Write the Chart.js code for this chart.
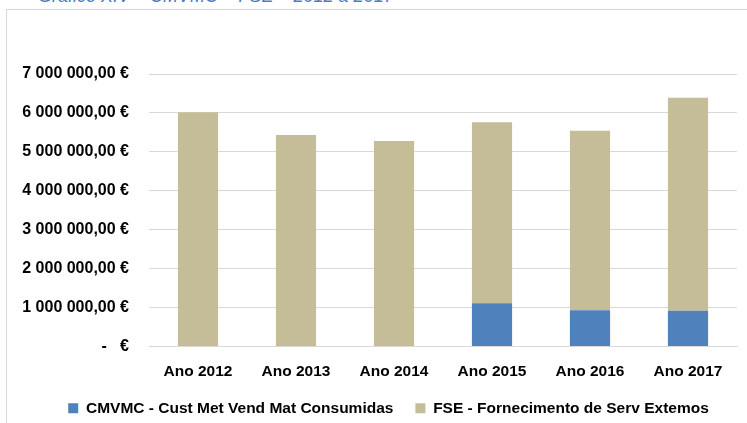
<!DOCTYPE html>
<html>
<head>
    <title>CMVMC + FSE 2012 a 2017</title>
    <script src="https://cdn.jsdelivr.net/npm/chart.js"></script>
    <style>
        body {
            margin: 0;
            background-color: white;
            font-family: "Liberation Sans", Arial, sans-serif;
            overflow: hidden;
        }

        #title {
            position: absolute;
            left: 38px;
            top: -14px;
            font-size: 18px;
            font-style: italic;
            color: #4f7ac0;
            white-space: nowrap;
        }

        #frame {
            position: absolute;
            left: 6px;
            top: 9px;
            width: 800px;
            height: 500px;
            border-left: 1px solid #d9d9d9;
            border-top: 1px solid #d9d9d9;
        }

        #chartBox {
            position: absolute;
            left: 0;
            top: 0;
            width: 747px;
            height: 423px;
        }
    </style>
</head>
<body>
    <div id="title">Gráfico XIV – CMVMC + FSE – 2012 a 2017</div>
    <div id="frame"></div>
    <div id="chartBox">
        <canvas id="costChart" width="747" height="423"></canvas>
    </div>

    <script>
        const categories = ['Ano 2012', 'Ano 2013', 'Ano 2014', 'Ano 2015', 'Ano 2016', 'Ano 2017'];

        const cmvmc = [0, 0, 0, 1110000, 930000, 920000];
        const fse = [6020000, 5430000, 5280000, 4650000, 4610000, 5470000];

        const seriesNames = ['CMVMC - Cust Met Vend Mat Consumidas', 'FSE - Fornecimento de Serv Extemos'];

        const yMax = 7000000;
        const yStep = 1000000;

        function euro(v) {
            if (v === 0) return '-   €';
            const parts = Math.round(v).toString().replace(/\B(?=(\d{3})+(?!\d))/g, ' ');
            return parts + ',00 €';
        }

        const fontFamily = '"Liberation Sans", Arial, sans-serif';

        // legend sits a bit right of centre in the original
        const shiftLegend = {
            id: 'shiftLegend',
            afterLayout(chart) {
                chart.legend.left += 20;
                chart.legend.right += 20;
            }
        };

        const ctx = document.getElementById('costChart').getContext('2d');
        new Chart(ctx, {
            type: 'bar',
            data: {
                labels: categories,
                datasets: [
                    {
                        label: seriesNames[0],
                        data: cmvmc,
                        backgroundColor: '#4f81bd',
                        borderWidth: 0,
                        barPercentage: 0.41,
                        categoryPercentage: 1
                    },
                    {
                        label: seriesNames[1],
                        data: fse,
                        backgroundColor: '#c4bd97',
                        borderWidth: 0,
                        barPercentage: 0.41,
                        categoryPercentage: 1
                    }
                ]
            },
            options: {
                responsive: false,
                animation: false,
                layout: {
                    padding: { top: 74, right: 10, left: 0, bottom: -3 }
                },
                scales: {
                    x: {
                        stacked: true,
                        afterFit: (scale) => { scale.height = 32; },
                        grid: { display: false, drawTicks: false },
                        border: { color: '#d9d9d9', width: 1 },
                        ticks: { color: '#000', font: { family: fontFamily, size: 15.5, weight: 'bold' }, padding: 16 }
                    },
                    y: {
                        stacked: true,
                        min: 0,
                        max: yMax,
                        afterFit: (scale) => { scale.width = 149; },
                        grid: { color: '#d9d9d9', lineWidth: 1, drawTicks: false },
                        border: { display: false },
                        ticks: {
                            stepSize: yStep,
                            color: '#000',
                            font: { family: fontFamily, size: 16, weight: 'bold' },
                            padding: 20,
                            callback: (v) => euro(v)
                        }
                    }
                },
                plugins: {
                    legend: {
                        position: 'bottom',
                        labels: {
                            color: '#000',
                            font: { family: fontFamily, size: 15.5, weight: 'bold' },
                            boxWidth: 10,
                            boxHeight: 10,
                            padding: 22
                        }
                    },
                    tooltip: { enabled: false }
                }
            },
            plugins: [shiftLegend]
        });
    </script>
</body>
</html>
